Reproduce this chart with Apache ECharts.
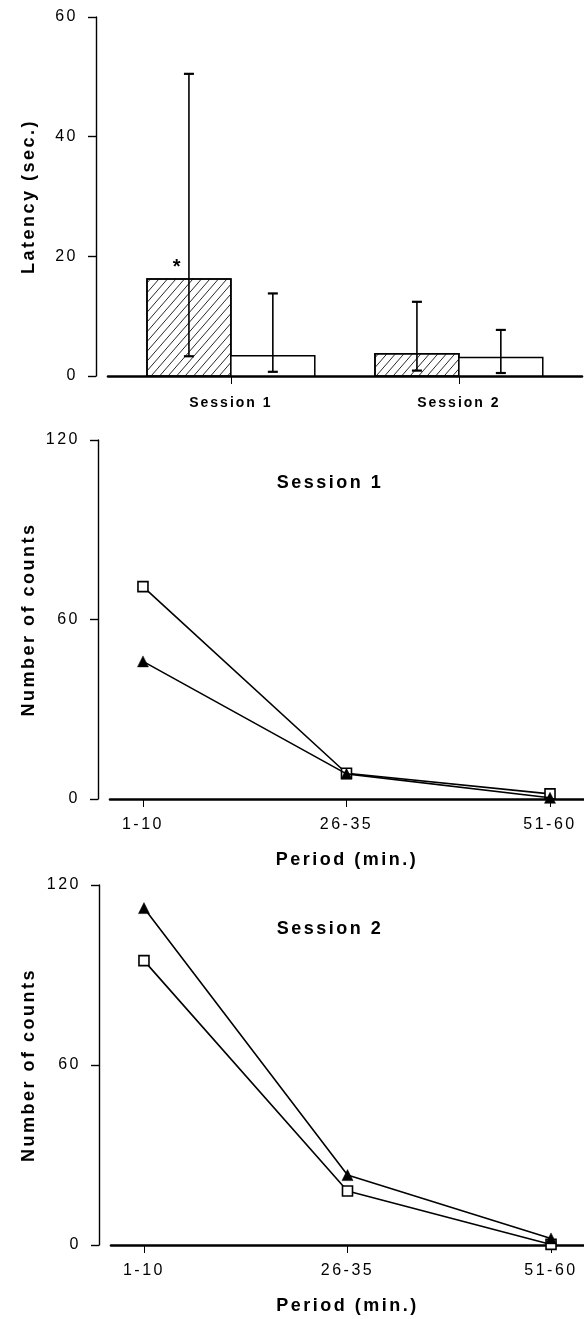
<!DOCTYPE html>
<html><head><meta charset="utf-8">
<script src="https://cdn.jsdelivr.net/npm/echarts@6/dist/echarts.min.js"></script>
<style>
html,body{margin:0;padding:0;background:#fff;}
#c{width:584px;height:1319px;}
</style></head><body><div id="c"></div>
<script>
// ---- data ----
const sessions = ['Session 1', 'Session 2'];
const latencyHatched = [16.2, 3.7];
const latencyHatchedLow = [3.3, 0.9];
const latencyHatchedHigh = [50.5, 12.4];
const latencyOpen = [3.4, 3.1];
const latencyOpenLow = [0.7, 0.5];
const latencyOpenHigh = [13.8, 7.7];
const significance = ['*', ''];
const latencyTicks = [0, 20, 40, 60];

const periods = ['1-10', '26-35', '51-60'];
const s1Square = [71, 8.6, 1.7];
const s1Triangle = [46, 8.4, 0.4];
const s2Triangle = [112.3, 23.3, 2.2];
const s2Square = [94.8, 18, 0.2];
const countTicks = [0, 60, 120];

// wide letter spacing like the original typesetting (canvas letterSpacing)
(function () {
  const proto = CanvasRenderingContext2D.prototype;
  const orig = proto.fillText;
  proto.fillText = function () {
    if ('letterSpacing' in this) {
      const prev = this.letterSpacing;
      this.letterSpacing = /bold/.test(this.font) && /14px/.test(this.font) ? '2px' : '2.5px';
      orig.apply(this, arguments);
      this.letterSpacing = prev;
    } else {
      orig.apply(this, arguments);
    }
  };
})();

// ---- helpers ----
const FONT = "'Liberation Sans', Arial, Helvetica, sans-serif";
const BAR_FRAC = 0.368;

function hatchLines(x0, y0, x1, y1, step, slope) {
  const w = x1 - x0, h = y1 - y0, hu = h / slope, out = [];
  for (let d = -hu + step * 0.4; d < w; d += step) {
    const uS = Math.max(0, d), uE = Math.min(w, d + hu);
    if (uE <= uS) continue;
    out.push({
      type: 'line', silent: true,
      shape: { x1: x0 + uS, y1: y1 - slope * (uS - d), x2: x0 + uE, y2: y1 - slope * (uE - d) },
      style: { stroke: '#111', lineWidth: 0.9 }
    });
  }
  return out;
}

function makeBarRender(group, hatched, marks) {
  return function (params, api) {
    const xi = api.value(0), mean = api.value(1), lo = api.value(2), hi = api.value(3);
    const unit = api.size([1, 0])[0];
    const bw = unit * BAR_FRAC;
    const base = api.coord([xi, 0]);
    const top = api.coord([xi, mean]);
    const x0 = group === 0 ? base[0] - bw : base[0];
    const cx = x0 + bw / 2;
    const children = [{
      type: 'rect',
      shape: { x: x0, y: top[1], width: bw, height: base[1] - top[1] },
      style: { fill: '#fff', stroke: '#000', lineWidth: 1.5 }
    }];
    if (hatched) {
      hatchLines(x0, top[1], x0 + bw, base[1], 8.5, 1.15).forEach(l => children.push(l));
      children.push({
        type: 'rect', silent: true,
        shape: { x: x0, y: top[1], width: bw, height: base[1] - top[1] },
        style: { fill: 'none', stroke: '#000', lineWidth: 1.5 }
      });
    }
    const pLo = api.coord([xi, lo]), pHi = api.coord([xi, hi]);
    children.push({ type: 'line', shape: { x1: cx, y1: pLo[1], x2: cx, y2: pHi[1] }, style: { stroke: '#000', lineWidth: 1.6 } });
    children.push({ type: 'line', shape: { x1: cx - 5, y1: pHi[1], x2: cx + 5, y2: pHi[1] }, style: { stroke: '#000', lineWidth: 2.2 } });
    children.push({ type: 'line', shape: { x1: cx - 5, y1: pLo[1], x2: cx + 5, y2: pLo[1] }, style: { stroke: '#000', lineWidth: 2.2 } });
    const m = marks ? marks[params.dataIndex] : '';
    if (m) {
      children.push({
        type: 'text',
        style: { text: m, x: cx - 11, y: top[1] - 12, align: 'center', verticalAlign: 'middle', font: 'bold 20px ' + FONT, fill: '#000' }
      });
    }
    return { type: 'group', children };
  };
}

const axisLineY = { show: true, onZero: false, lineStyle: { color: '#000', width: 1.4 } };
const axisTickY = { show: true, length: 8, lineStyle: { color: '#000', width: 1.4 } };
const axisLabelY = { color: '#000', fontSize: 16, fontFamily: FONT, margin: 18 };
const nameStyle = { color: '#000', fontSize: 18, fontWeight: 'bold', fontFamily: FONT };
const axisLineX = { show: true, onZero: false, lineStyle: { color: '#000', width: 2.6 } };

const hatchedData = sessions.map((s, i) => [i, latencyHatched[i], latencyHatchedLow[i], latencyHatchedHigh[i]]);
const openData = sessions.map((s, i) => [i, latencyOpen[i], latencyOpenLow[i], latencyOpenHigh[i]]);
const pts = arr => arr.map((v, i) => [i, v]);

function lineSeries(data, axisIdx, kind) {
  const isTri = kind === 'triangle';
  return {
    type: 'line', xAxisIndex: axisIdx, yAxisIndex: axisIdx, data,
    symbol: isTri ? 'triangle' : 'rect',
    symbolSize: isTri ? 11 : 10,
    z: isTri ? 4 : 3,
    lineStyle: { color: '#000', width: 1.6 },
    itemStyle: isTri ? { color: '#000', borderColor: '#000', borderWidth: 0.5 } : { color: '#fff', borderColor: '#000', borderWidth: 1.6 },
    animation: false, silent: true
  };
}

const option = {
  animation: false,
  backgroundColor: '#fff',
  grid: [
    { left: 108, right: 2, top: 17, height: 359 },
    { left: 110, right: 0, top: 440, height: 359 },
    { left: 111, right: 0, top: 885, height: 360 }
  ],
  xAxis: [
    {
      gridIndex: 0, type: 'value', min: -0.539, max: 1.54,
      axisLine: axisLineX, splitLine: { show: false },
      axisTick: { show: true, customValues: [0, 1], length: 8, lineStyle: { color: '#000', width: 1 } },
      axisLabel: { customValues: [0, 1], formatter: v => sessions[Math.round(v)], color: '#000', fontSize: 14, fontWeight: 'bold', fontFamily: FONT, margin: 20 }
    },
    {
      gridIndex: 1, type: 'value', min: -0.162, max: 2.167,
      axisLine: axisLineX, splitLine: { show: false },
      axisTick: { show: true, customValues: [0, 1, 2], length: 8, lineStyle: { color: '#000', width: 1 } },
      axisLabel: { customValues: [0, 1, 2], formatter: v => periods[Math.round(v)], color: '#000', fontSize: 16, fontFamily: FONT, margin: 18 },
      name: 'Period (min.)', nameLocation: 'middle', nameGap: 52, nameTextStyle: nameStyle
    },
    {
      gridIndex: 2, type: 'value', min: -0.162, max: 2.162,
      axisLine: axisLineX, splitLine: { show: false },
      axisTick: { show: true, customValues: [0, 1, 2], length: 8, lineStyle: { color: '#000', width: 1 } },
      axisLabel: { customValues: [0, 1, 2], formatter: v => periods[Math.round(v)], color: '#000', fontSize: 16, fontFamily: FONT, margin: 18 },
      name: 'Period (min.)', nameLocation: 'middle', nameGap: 52, nameTextStyle: nameStyle
    }
  ],
  yAxis: [
    {
      gridIndex: 0, type: 'value', min: latencyTicks[0], max: latencyTicks[latencyTicks.length - 1], interval: 20,
      offset: 12, axisLine: axisLineY, axisTick: axisTickY, axisLabel: axisLabelY, splitLine: { show: false },
      name: 'Latency (sec.)', nameLocation: 'middle', nameGap: 58, nameTextStyle: nameStyle
    },
    {
      gridIndex: 1, type: 'value', min: countTicks[0], max: countTicks[countTicks.length - 1], interval: 60,
      offset: 12, axisLine: axisLineY, axisTick: axisTickY, axisLabel: axisLabelY, splitLine: { show: false },
      name: 'Number of counts', nameLocation: 'middle', nameGap: 60, nameTextStyle: nameStyle
    },
    {
      gridIndex: 2, type: 'value', min: countTicks[0], max: countTicks[countTicks.length - 1], interval: 60,
      offset: 12, axisLine: axisLineY, axisTick: axisTickY, axisLabel: axisLabelY, splitLine: { show: false },
      name: 'Number of counts', nameLocation: 'middle', nameGap: 61, nameTextStyle: nameStyle
    }
  ],
  graphic: [
    { type: 'text', x: 330, y: 483, style: { text: 'Session 1', align: 'center', verticalAlign: 'middle', font: 'bold 18px ' + FONT, fill: '#000' } },
    { type: 'text', x: 330, y: 929, style: { text: 'Session 2', align: 'center', verticalAlign: 'middle', font: 'bold 18px ' + FONT, fill: '#000' } }
  ],
  series: [
    { type: 'custom', xAxisIndex: 0, yAxisIndex: 0, data: hatchedData, renderItem: makeBarRender(0, true, significance), encode: { x: 0, y: [1, 2, 3] }, z: 3, silent: true },
    { type: 'custom', xAxisIndex: 0, yAxisIndex: 0, data: openData, renderItem: makeBarRender(1, false, null), encode: { x: 0, y: [1, 2, 3] }, z: 3, silent: true },
    lineSeries(pts(s1Square), 1, 'square'),
    lineSeries(pts(s1Triangle), 1, 'triangle'),
    lineSeries(pts(s2Square), 2, 'square'),
    lineSeries(pts(s2Triangle), 2, 'triangle')
  ]
};

const chart = echarts.init(document.getElementById('c'), null, { renderer: 'canvas', width: 584, height: 1319 });
chart.setOption(option);
</script></body></html>
